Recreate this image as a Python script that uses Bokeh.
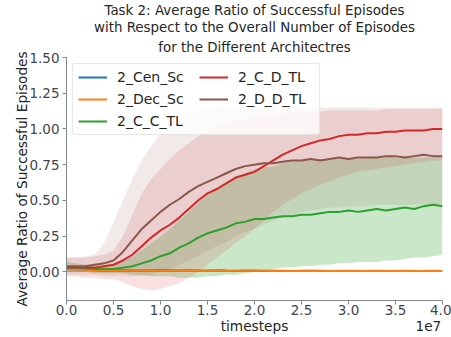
import numpy as np
from bokeh.plotting import figure
from bokeh.models import (Legend, LegendItem, FixedTicker, NumeralTickFormatter,
                          Range1d, Title, LinearAxis, CustomJSTickFormatter)
from bokeh.embed import file_html
from bokeh.resources import INLINE

# timesteps in units of 1e7
timesteps = [0.0, 0.1, 0.2, 0.3, 0.4, 0.5, 0.6, 0.7, 0.8, 0.9,
             1.0, 1.1, 1.2, 1.3, 1.4, 1.5, 1.6, 1.7, 1.8, 1.9,
             2.0, 2.1, 2.2, 2.3, 2.4, 2.5, 2.6, 2.7, 2.8, 2.9,
             3.0, 3.1, 3.2, 3.3, 3.4, 3.5, 3.6, 3.7, 3.8, 3.9, 4.0]

cen_sc_mean = [0.02, 0.02, 0.015, 0.012, 0.01, 0.01, 0.012, 0.01, 0.008, 0.01,
               0.012, 0.01, 0.008, 0.01, 0.009, 0.008, 0.01, 0.008, 0.007, 0.008,
               0.008, 0.007, 0.008, 0.007, 0.006, 0.007, 0.008, 0.007, 0.006, 0.007,
               0.007, 0.006, 0.007, 0.006, 0.007, 0.006, 0.007, 0.006, 0.007, 0.006, 0.006]
cen_sc_lo = [0.0] * 41
cen_sc_hi = [0.04, 0.04, 0.03, 0.025, 0.02, 0.02, 0.025, 0.02, 0.018, 0.02,
             0.025, 0.02, 0.018, 0.02, 0.018, 0.016, 0.02, 0.016, 0.015, 0.016,
             0.016, 0.015, 0.016, 0.015, 0.014, 0.015, 0.016, 0.015, 0.014, 0.015,
             0.015, 0.014, 0.015, 0.014, 0.015, 0.014, 0.015, 0.014, 0.015, 0.014, 0.014]

dec_sc_mean = [0.02, 0.018, 0.015, 0.012, 0.011, 0.01, 0.01, 0.011, 0.009, 0.01,
               0.01, 0.009, 0.01, 0.008, 0.009, 0.008, 0.009, 0.008, 0.008, 0.009,
               0.008, 0.008, 0.007, 0.008, 0.007, 0.008, 0.007, 0.008, 0.007, 0.007,
               0.008, 0.007, 0.007, 0.008, 0.007, 0.007, 0.008, 0.007, 0.007, 0.008, 0.007]
dec_sc_lo = [0.0] * 41
dec_sc_hi = [0.04, 0.035, 0.03, 0.025, 0.022, 0.02, 0.02, 0.022, 0.018, 0.02,
             0.02, 0.018, 0.02, 0.016, 0.018, 0.016, 0.018, 0.016, 0.016, 0.018,
             0.016, 0.016, 0.014, 0.016, 0.014, 0.016, 0.014, 0.016, 0.014, 0.014,
             0.016, 0.014, 0.014, 0.016, 0.014, 0.014, 0.016, 0.014, 0.014, 0.016, 0.014]

c_c_tl_mean = [0.03, 0.03, 0.025, 0.02, 0.02, 0.02, 0.03, 0.04, 0.06, 0.08,
               0.11, 0.13, 0.17, 0.20, 0.24, 0.27, 0.29, 0.31, 0.34, 0.35,
               0.37, 0.37, 0.38, 0.39, 0.39, 0.40, 0.40, 0.41, 0.42, 0.42,
               0.43, 0.42, 0.43, 0.44, 0.43, 0.44, 0.45, 0.44, 0.46, 0.47, 0.46]
c_c_tl_lo = [0.0, 0.0, 0.0, -0.01, -0.01, -0.01, -0.01, -0.02, -0.02, -0.03,
             -0.03, -0.03, -0.04, -0.04, -0.04, -0.03, -0.03, -0.02, -0.02, -0.01,
             0.0, 0.01, 0.02, 0.03, 0.03, 0.04, 0.04, 0.05, 0.05, 0.06,
             0.06, 0.07, 0.07, 0.07, 0.08, 0.08, 0.09, 0.10, 0.10, 0.11, 0.12]
c_c_tl_hi = [0.07, 0.06, 0.05, 0.05, 0.05, 0.05, 0.08, 0.11, 0.15, 0.20,
             0.25, 0.30, 0.36, 0.42, 0.48, 0.55, 0.59, 0.63, 0.66, 0.69,
             0.72, 0.73, 0.74, 0.76, 0.77, 0.78, 0.78, 0.79, 0.79, 0.79,
             0.79, 0.79, 0.80, 0.80, 0.80, 0.80, 0.80, 0.80, 0.80, 0.80, 0.80]

c_d_tl_mean = [0.03, 0.03, 0.03, 0.03, 0.04, 0.05, 0.08, 0.12, 0.18, 0.24,
               0.29, 0.33, 0.38, 0.44, 0.50, 0.55, 0.58, 0.62, 0.66, 0.68,
               0.70, 0.74, 0.78, 0.82, 0.85, 0.88, 0.90, 0.92, 0.93, 0.95,
               0.96, 0.96, 0.97, 0.97, 0.98, 0.98, 0.99, 0.99, 0.99, 1.00, 1.00]
c_d_tl_lo = [-0.03, -0.03, -0.04, -0.04, -0.05, -0.05, -0.07, -0.10, -0.12, -0.13,
             -0.12, -0.10, -0.08, -0.04, 0.0, 0.05, 0.10, 0.15, 0.20, 0.25,
             0.30, 0.36, 0.42, 0.47, 0.51, 0.55, 0.58, 0.61, 0.63, 0.66,
             0.68, 0.70, 0.71, 0.72, 0.73, 0.74, 0.75, 0.76, 0.77, 0.78, 0.78]
c_d_tl_hi = [0.10, 0.10, 0.10, 0.11, 0.12, 0.15, 0.25, 0.40, 0.55, 0.65,
             0.72, 0.79, 0.85, 0.90, 0.95, 0.98, 1.02, 1.04, 1.06, 1.07,
             1.08, 1.09, 1.10, 1.11, 1.11, 1.12, 1.12, 1.12, 1.13, 1.13,
             1.13, 1.13, 1.13, 1.13, 1.14, 1.14, 1.14, 1.14, 1.14, 1.14, 1.14]

d_d_tl_mean = [0.04, 0.04, 0.04, 0.05, 0.06, 0.08, 0.14, 0.22, 0.30, 0.36,
               0.42, 0.47, 0.51, 0.56, 0.60, 0.63, 0.66, 0.69, 0.72, 0.74,
               0.75, 0.76, 0.76, 0.77, 0.78, 0.78, 0.79, 0.78, 0.79, 0.80,
               0.79, 0.80, 0.80, 0.80, 0.81, 0.81, 0.80, 0.81, 0.82, 0.81, 0.81]
d_d_tl_lo = [-0.02, -0.02, -0.02, -0.02, -0.03, -0.03, -0.03, -0.03, -0.03, -0.02,
             0.0, 0.02, 0.05, 0.08, 0.11, 0.15, 0.18, 0.21, 0.25, 0.28,
             0.30, 0.33, 0.36, 0.38, 0.40, 0.42, 0.43, 0.44, 0.45, 0.45,
             0.46, 0.46, 0.46, 0.47, 0.47, 0.47, 0.47, 0.47, 0.47, 0.47, 0.47]
d_d_tl_hi = [0.10, 0.10, 0.11, 0.12, 0.20, 0.35, 0.50, 0.65, 0.78, 0.88,
             0.97, 1.03, 1.08, 1.11, 1.13, 1.14, 1.15, 1.15, 1.15, 1.15,
             1.15, 1.15, 1.15, 1.15, 1.15, 1.15, 1.15, 1.15, 1.15, 1.15,
             1.15, 1.15, 1.15, 1.15, 1.15, 1.15, 1.15, 1.15, 1.15, 1.15, 1.15]

names = ["2_Cen_Sc", "2_Dec_Sc", "2_C_C_TL", "2_C_D_TL", "2_D_D_TL"]
colors = ["#1f77b4", "#ff7f0e", "#2ca02c", "#d62728", "#8c564b"]
band_alpha = [0.2, 0.2, 0.25, 0.14, 0.12]
series = [
    (cen_sc_mean, cen_sc_lo, cen_sc_hi),
    (dec_sc_mean, dec_sc_lo, dec_sc_hi),
    (c_c_tl_mean, c_c_tl_lo, c_c_tl_hi),
    (c_d_tl_mean, c_d_tl_lo, c_d_tl_hi),
    (d_d_tl_mean, d_d_tl_lo, d_d_tl_hi),
]
x_ticks = [0, 0.5, 1.0, 1.5, 2.0, 2.5, 3.0, 3.5, 4.0]
y_ticks = [0, 0.25, 0.5, 0.75, 1.0, 1.25, 1.5]
x_label = "timesteps"
x_offset_text = "1e7"
y_label = "Average Ratio of Successful Episodes"

FONT = "DejaVu Sans"
TXT = "#262626"
TICK = "#3e4650"
SPINE = "#7f8a96"

p = figure(width=451, height=337, output_backend="svg", toolbar_location=None,
           x_range=Range1d(0, 4.0), y_range=Range1d(-0.2, 1.5),
           min_border_left=66, min_border_right=9, min_border_top=55,
           min_border_bottom=37)
p.outline_line_color = None
p.xgrid.visible = False
p.ygrid.visible = False
p.background_fill_color = "white"
p.border_fill_color = "white"

title_lines = ["Task 2: Average Ratio of Successful Episodes",
               "with Respect to the Overall Number of Episodes",
               "for the Different Architectres"]
for i, line in enumerate(reversed(title_lines)):
    t = Title(text=line, align="center", text_font=FONT, text_font_size="13.4px",
              text_font_style="normal", text_color=TXT,
              standoff=6 if i == 0 else 0, offset=-5)
    p.add_layout(t, "above")

renderers = []
for (m, lo, hi), c, a in zip(series, colors, band_alpha):
    p.varea(x=timesteps, y1=lo, y2=hi, fill_color=c, fill_alpha=a)
for (m, lo, hi), c in zip(series, colors):
    r = p.line(x=timesteps, y=m, line_color=c, line_width=2.0)
    renderers.append(r)

items = [LegendItem(label=names[i], renderers=[renderers[i]]) for i in range(5)]
legend = Legend(items=items, location="top_left", ncols=2,
                label_text_font=FONT, label_text_font_size="14px",
                label_text_color=TXT, glyph_width=29, glyph_height=16,
                label_height=16, label_width=76,
                label_standoff=10, spacing=6, padding=5, margin=6,
                border_line_color="#d0d0d0", background_fill_alpha=0.8,
                border_radius=3)
p.add_layout(legend)

for ax in (p.xaxis[0], p.yaxis[0]):
    ax.major_label_text_font = FONT
    ax.major_label_text_font_size = "13.5px"
    ax.major_label_text_color = TICK
    ax.axis_label_text_font = FONT
    ax.axis_label_text_font_size = "13.7px"
    ax.axis_label_text_font_style = "normal"
    ax.axis_label_text_color = TXT
    ax.axis_line_color = SPINE
    ax.major_tick_line_color = SPINE
    ax.major_tick_in = 0
    ax.major_tick_out = 4
    ax.minor_tick_line_color = None

p.xaxis[0].ticker = FixedTicker(ticks=x_ticks)
p.xaxis[0].formatter = NumeralTickFormatter(format="0.0")
p.xaxis[0].major_label_standoff = 0
p.yaxis.ticker = FixedTicker(ticks=y_ticks)
p.yaxis.formatter = NumeralTickFormatter(format="0.00")
p.yaxis.axis_label = y_label
p.yaxis.axis_label_standoff = -4
p.yaxis.major_label_standoff = 3

# second (label-only) x axis carrying "timesteps" and the "1e7" offset text
lab_axis = LinearAxis(
    ticker=FixedTicker(ticks=[2.0, 3.85]),
    formatter=CustomJSTickFormatter(args=dict(a=x_label, b=x_offset_text),
                                    code="return tick < 3 ? a : b;"),
    axis_line_color=None, major_tick_line_color=None, minor_tick_line_color=None,
    major_tick_in=0, major_tick_out=0, major_label_standoff=0,
    major_label_text_font=FONT, major_label_text_font_size="13.7px",
    major_label_text_color=TXT)
p.add_layout(lab_axis, "below")

open("out.html", "w").write(file_html(p, INLINE))
